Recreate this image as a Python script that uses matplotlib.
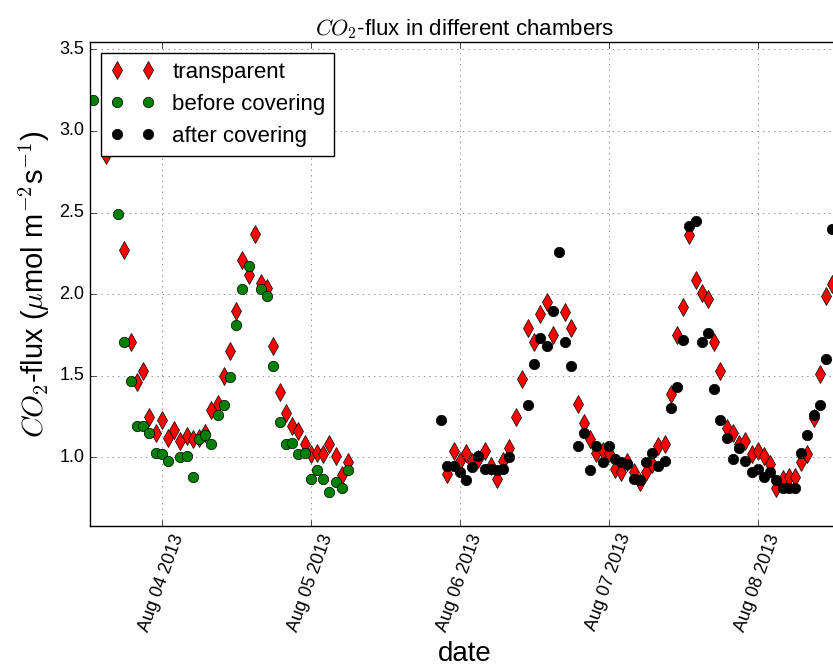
import matplotlib
matplotlib.use('Agg')
import matplotlib.pyplot as plt
import matplotlib.dates as mdates
import pandas as pd

# hours relative to base time, values in umol m-2 s-1
base_day1 = '2013-08-04 00:00'
base_day3 = '2013-08-06 00:00'

# transparent chamber, first block
h_transp_1 = [-9, -6, -5, -4, -3, -2, -1, 0, 1, 2, 3, 4, 5, 6, 7, 8, 9, 10, 11, 12,
              13, 14, 15, 16, 17, 18, 19, 20, 21, 22, 23, 24, 25, 26, 27, 28, 29, 30]
v_transp_1 = [2.85, 2.27, 1.71, 1.46, 1.53, 1.25, 1.15, 1.23, 1.12, 1.17, 1.10, 1.13, 1.11, 1.12, 1.15, 1.29, 1.33, 1.50, 1.65, 1.90,
              2.21, 2.12, 2.37, 2.07, 2.04, 1.68, 1.40, 1.27, 1.19, 1.16, 1.08, 1.02, 1.03, 1.02, 1.08, 1.01, 0.89, 0.97]

# transparent chamber, second block
h_transp_2 = [-2, -1, 0, 1, 2, 3, 4, 5, 6, 7, 8, 9, 10, 11, 12, 13, 14, 15, 17, 18,
              19, 20, 21, 22, 23, 24, 25, 26, 27, 28, 29, 30, 31, 32, 33, 34, 35, 36, 37, 38,
              39, 40, 41, 42, 43, 44, 45, 46, 47, 48, 49, 50, 51, 52, 53, 54, 55, 56, 57, 58,
              59, 60, 61]
v_transp_2 = [0.90, 1.04, 0.98, 1.03, 0.97, 0.99, 1.04, 0.95, 0.87, 0.98, 1.06, 1.25, 1.48, 1.79, 1.71, 1.88, 1.95, 1.75, 1.89, 1.79,
              1.33, 1.21, 1.11, 1.03, 1.04, 1.03, 0.93, 0.91, 0.97, 0.91, 0.85, 0.91, 0.96, 1.07, 1.08, 1.39, 1.75, 1.92, 2.36, 2.09,
              2.01, 1.97, 1.71, 1.53, 1.18, 1.15, 1.08, 1.10, 1.02, 1.04, 1.01, 0.96, 0.81, 0.87, 0.88, 0.88, 0.97, 1.02, 1.24, 1.51,
              1.99, 2.06, 2.70]

# opaque chamber before covering
h_before = [-11, -7, -6, -5, -4, -3, -2, -1, 0, 1, 3, 4, 5, 6, 7, 8, 9, 10, 11, 12,
            13, 14, 16, 17, 18, 19, 20, 21, 22, 23, 24, 25, 26, 27, 28, 29, 30]
v_before = [3.19, 2.49, 1.71, 1.47, 1.19, 1.19, 1.15, 1.03, 1.02, 0.98, 1.00, 1.01, 0.88, 1.11, 1.14, 1.08, 1.26, 1.32, 1.49, 1.81,
            2.03, 2.17, 2.03, 1.99, 1.56, 1.22, 1.08, 1.09, 1.02, 1.03, 0.87, 0.92, 0.87, 0.79, 0.85, 0.81, 0.92]

# opaque chamber after covering
h_after = [-3, -2, -1, 0, 1, 2, 3, 4, 5, 6, 7, 8, 11, 12, 13, 14, 15, 16, 17, 18,
           19, 20, 21, 22, 23, 24, 25, 26, 27, 28, 29, 30, 31, 32, 33, 34, 35, 36, 37, 38,
           39, 40, 41, 42, 43, 44, 45, 46, 47, 48, 49, 50, 51, 52, 53, 54, 55, 56, 57, 58,
           59, 60]
v_after = [1.23, 0.95, 0.95, 0.91, 0.86, 0.94, 1.01, 0.93, 0.93, 0.92, 0.93, 1.00, 1.32, 1.57, 1.73, 1.68, 1.90, 2.26, 1.71, 1.56,
           1.07, 1.15, 0.92, 1.07, 0.97, 1.07, 0.99, 0.97, 0.96, 0.87, 0.86, 0.97, 1.03, 0.95, 0.98, 1.30, 1.43, 1.72, 2.42, 2.45,
           1.71, 1.76, 1.42, 1.23, 1.12, 0.99, 1.06, 0.98, 0.91, 0.93, 0.88, 0.91, 0.86, 0.81, 0.81, 0.81, 1.03, 1.14, 1.26, 1.32,
           1.60, 2.40]


def to_time(base, hours):
    return pd.Timestamp(base) + pd.to_timedelta(hours, unit='h')


t_transp = list(to_time(base_day1, h_transp_1)) + list(to_time(base_day3, h_transp_2))
v_transp = v_transp_1 + v_transp_2
t_before = to_time(base_day1, h_before)
t_after = to_time(base_day3, h_after)

plt.style.use('classic')
plt.rcParams['font.family'] = ['Liberation Sans', 'DejaVu Sans']

fig = plt.figure(figsize=(8.33, 6.7), dpi=100)
# axes runs a little past the right edge of the picture (cropped original)
ax = fig.add_axes([90 / 833, 144 / 670, 750 / 833, 484 / 670])

ax.plot(t_transp, v_transp, 'rd', markersize=9, markeredgewidth=0.5, label='transparent')
ax.plot(t_before, v_before, 'go', markersize=7.5, markeredgewidth=0.5, label='before covering')
ax.plot(t_after, v_after, 'ko', markersize=7.5, markeredgewidth=0.5, label='after covering')

ax.set_xlim(pd.Timestamp('2013-08-03 12:27'), pd.Timestamp('2013-08-08 13:15'))
ax.set_ylim(0.58, 3.545)
ax.set_yticks([1.0, 1.5, 2.0, 2.5, 3.0, 3.5])
ax.yaxis.set_major_formatter(matplotlib.ticker.FormatStrFormatter('%.1f'))
ax.xaxis.set_major_locator(mdates.DayLocator())
ax.xaxis.set_major_formatter(mdates.DateFormatter('%b %d %Y'))
for lbl in ax.get_xticklabels():
    lbl.set_rotation(70)
ax.tick_params(labelsize=13)
ax.spines['right'].set_visible(False)

ax.grid(True, color='0.4')
ax.set_title('$CO_2$-flux in different chambers', fontsize=16)
ax.set_xlabel('date', fontsize=20)
ax.set_ylabel(r'$CO_2$-flux ($\mu$mol m$^{-2}$s$^{-1}$)', fontsize=21)
ax.legend(loc='upper left', numpoints=2, fontsize=16)

fig.savefig('out.png', dpi=100)
